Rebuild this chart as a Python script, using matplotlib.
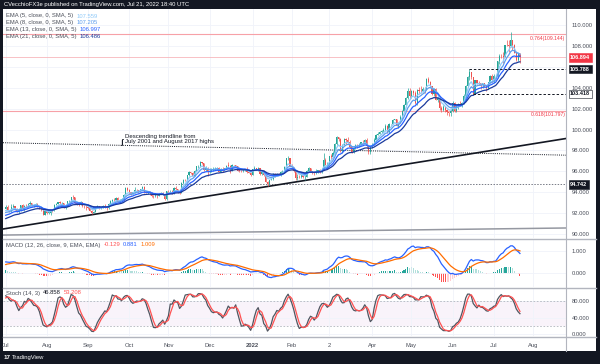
# plot.py
# DXY daily chart (TradingView style) with EMA ribbon, MACD and Stoch panes.

import numpy as np
import pandas as pd
import matplotlib
matplotlib.use("Agg")
import matplotlib.pyplot as plt
from matplotlib.patches import Rectangle

plt.rcParams['font.family'] = ['Liberation Sans', 'DejaVu Sans']

# ── Data ─────────────────────────────────────────────────────────────────────
# warm-up closes (May 2021) used only for the indicators
may21_close = [91.27, 91.29, 91.29, 90.90, 90.22, 90.16, 90.16, 90.70, 90.75, 90.32, 90.22,
               89.86, 90.18, 89.79, 90.01, 89.83, 89.77, 90.05, 89.99, 90.03, 90.03]
# warm-up June 2021 (indicators only, not drawn)
jun21_close = [89.83, 89.91, 90.52, 90.14, 90.00, 90.09, 90.08, 90.07, 90.56, 90.52, 90.53,
               91.40, 91.90, 92.23, 91.88, 91.75, 91.81, 91.82, 91.84, 91.89, 92.08, 92.44]
jun21_high = [90.19, 90.05, 90.62, 90.63, 90.26, 90.17, 90.23, 90.25, 90.60, 90.64, 90.61,
              91.48, 92.01, 92.41, 92.29, 92.01, 91.95, 91.92, 91.99, 92.05, 92.13, 92.48]
jun21_low = [89.66, 89.78, 89.88, 90.05, 89.97, 89.95, 90.00, 89.88, 90.05, 90.45, 90.40,
             90.41, 91.23, 91.50, 91.85, 91.68, 91.53, 91.68, 91.73, 91.80, 91.79, 92.01]

# visible candles, Jul 1 2021 -> Jul 21 2022 (one list per month)
close_m = [
    [92.56, 92.23, 92.22, 92.56, 92.65, 92.43, 92.13, 92.26, 92.74, 92.38, 92.71, 92.67, 92.84, 92.93, 92.76, 92.80, 92.90, 92.63, 92.43, 92.30, 91.86, 92.17],
    [92.04, 92.05, 92.27, 92.26, 92.80, 92.90, 93.06, 92.92, 92.98, 92.52, 92.60, 93.13, 93.14, 93.56, 93.50, 93.00, 92.88, 92.83, 93.05, 92.68, 92.65, 92.63],
    [92.51, 92.22, 92.03, 92.14, 92.52, 92.66, 92.49, 92.58, 92.64, 92.61, 92.50, 92.86, 93.20, 93.27, 93.22, 93.46, 93.11, 93.30, 93.35, 93.77, 94.36, 94.23],
    [94.04, 93.83, 93.99, 94.25, 94.19, 94.08, 94.30, 94.52, 94.04, 93.96, 93.96, 93.95, 93.61, 93.59, 93.77, 93.64, 93.85, 93.90, 93.80, 93.33, 94.12],
    [94.07, 94.09, 93.89, 94.41, 94.32, 94.05, 93.96, 94.85, 95.17, 95.13, 95.62, 95.94, 95.83, 95.54, 96.07, 96.49, 96.51, 96.85, 96.77, 96.08, 96.36, 95.99],
    [96.03, 96.14, 96.18, 96.30, 96.35, 95.93, 96.20, 96.08, 96.28, 96.55, 96.54, 96.05, 96.64, 96.57, 96.51, 96.07, 96.06, 96.03, 96.08, 96.20, 95.95, 95.86, 95.67],
    [96.22, 96.27, 96.18, 96.32, 95.72, 95.98, 95.63, 94.98, 94.79, 95.17, 95.26, 95.75, 95.53, 95.74, 95.64, 95.91, 95.95, 96.45, 97.25, 97.27, 96.54],
    [96.39, 96.01, 95.40, 95.48, 95.45, 95.63, 95.46, 95.49, 96.04, 96.32, 96.03, 95.86, 95.81, 96.06, 96.08, 96.02, 96.17, 97.11, 96.63, 96.71],
    [97.44, 97.40, 97.79, 98.63, 99.29, 99.06, 97.98, 98.50, 99.13, 99.00, 98.81, 98.35, 97.84, 98.23, 98.50, 98.45, 98.64, 98.81, 98.79, 98.97, 98.39, 97.82, 98.31],
    [98.62, 99.02, 99.48, 99.61, 99.80, 99.85, 99.94, 100.30, 99.80, 100.50, 100.52, 100.95, 101.04, 100.38, 100.61, 101.21, 101.75, 102.37, 102.99, 103.66, 103.20],
    [103.73, 103.48, 102.55, 103.76, 103.66, 103.64, 103.92, 103.88, 104.84, 104.56, 104.20, 103.40, 103.84, 102.85, 103.02, 102.08, 101.84, 102.11, 101.82, 101.67, 101.58, 101.75],
    [102.55, 101.79, 102.16, 102.43, 102.34, 102.56, 103.24, 104.15, 105.05, 105.52, 105.00, 103.36, 104.71, 104.45, 104.42, 104.22, 104.42, 104.20, 103.93, 104.52, 105.09, 104.69],
    [105.14, 105.08, 106.52, 107.04, 107.01, 106.89, 108.08, 108.07, 107.98, 108.55, 108.07, 107.36, 106.68, 107.18, 106.89],
]
high_m = [
    [92.74, 92.73, 92.32, 92.83, 92.84, 92.72, 92.49, 92.39, 92.80, 92.84, 92.79, 92.84, 92.96, 93.19, 93.00, 92.89, 92.98, 92.95, 92.69, 92.62, 92.37, 92.18],
    [92.21, 92.19, 92.33, 92.36, 92.84, 92.95, 93.09, 93.20, 93.05, 93.00, 92.68, 93.19, 93.24, 93.58, 93.73, 93.46, 93.07, 92.98, 93.13, 93.09, 92.79, 92.74],
    [92.75, 92.56, 92.26, 92.20, 92.57, 92.78, 92.71, 92.63, 92.73, 92.84, 92.67, 92.93, 93.26, 93.33, 93.44, 93.52, 93.53, 93.37, 93.48, 93.81, 94.45, 94.50],
    [94.29, 94.06, 94.03, 94.50, 94.30, 94.25, 94.32, 94.56, 94.55, 94.10, 94.10, 94.10, 93.99, 93.77, 93.84, 93.95, 93.97, 94.03, 94.01, 93.86, 94.16],
    [94.18, 94.18, 94.22, 94.50, 94.62, 94.33, 94.16, 94.93, 95.26, 95.27, 95.67, 96.00, 95.97, 95.92, 96.13, 96.51, 96.60, 96.94, 96.87, 96.78, 96.54, 96.43],
    [96.31, 96.28, 96.44, 96.44, 96.42, 96.38, 96.33, 96.37, 96.33, 96.57, 96.91, 96.58, 96.69, 96.62, 96.64, 96.52, 96.26, 96.09, 96.21, 96.25, 96.45, 96.08, 95.89],
    [96.26, 96.46, 96.33, 96.43, 96.33, 96.06, 96.08, 95.66, 95.10, 95.21, 95.28, 95.80, 95.79, 95.82, 95.80, 96.00, 96.11, 96.52, 97.27, 97.44, 97.29],
    [96.72, 96.44, 96.08, 95.75, 95.65, 95.74, 95.64, 95.98, 96.17, 96.44, 96.31, 96.06, 96.02, 96.22, 96.17, 96.21, 96.27, 97.73, 97.30, 96.91],
    [97.48, 97.70, 97.91, 98.69, 99.42, 99.28, 99.18, 98.63, 99.15, 99.16, 99.29, 99.02, 98.39, 98.32, 98.57, 98.66, 98.75, 98.85, 98.96, 99.11, 99.16, 98.42, 98.40],
    [98.71, 99.15, 99.55, 99.76, 99.89, 99.97, 100.16, 100.52, 100.41, 100.64, 100.55, 100.98, 101.03, 101.04, 100.72, 101.34, 101.86, 102.47, 103.13, 103.94, 103.93],
    [103.79, 103.79, 103.66, 103.84, 104.07, 104.19, 104.07, 104.06, 104.92, 105.01, 104.65, 104.18, 103.94, 103.96, 103.08, 103.09, 102.26, 102.32, 102.19, 101.95, 101.71, 101.95],
    [102.73, 102.67, 102.30, 102.51, 102.70, 102.60, 103.36, 104.24, 105.09, 105.79, 105.55, 104.95, 104.77, 104.78, 104.62, 104.47, 104.48, 104.48, 104.25, 104.59, 105.23, 105.32],
    [105.35, 105.22, 106.53, 107.27, 107.20, 107.45, 108.10, 108.56, 108.59, 109.29, 108.58, 108.18, 107.49, 107.28, 107.31],
]
low_m = [
    [92.40, 92.17, 92.11, 92.10, 92.51, 92.33, 92.11, 92.01, 92.17, 92.32, 92.24, 92.54, 92.60, 92.77, 92.69, 92.59, 92.72, 92.59, 92.37, 92.20, 91.78, 91.84],
    [91.92, 91.91, 91.78, 92.08, 92.18, 92.74, 92.85, 92.85, 92.82, 92.46, 92.44, 92.56, 92.97, 93.11, 93.36, 92.91, 92.75, 92.67, 92.75, 92.56, 92.51, 92.34],
    [92.37, 92.18, 91.95, 91.99, 92.06, 92.46, 92.35, 92.38, 92.46, 92.48, 92.33, 92.44, 92.81, 92.97, 93.08, 93.13, 93.03, 93.00, 93.08, 93.25, 93.73, 94.08],
    [93.87, 93.72, 93.79, 93.96, 94.14, 93.97, 94.01, 94.25, 93.88, 93.90, 93.79, 93.71, 93.50, 93.49, 93.51, 93.49, 93.61, 93.81, 93.71, 93.28, 93.28],
    [93.92, 93.91, 93.84, 93.83, 94.15, 93.93, 93.87, 93.93, 94.83, 95.07, 95.10, 95.53, 95.78, 95.51, 95.57, 96.02, 96.36, 96.44, 96.72, 96.03, 96.03, 95.52],
    [95.81, 95.91, 96.05, 96.15, 96.13, 95.89, 95.92, 95.94, 95.99, 96.26, 96.32, 95.85, 96.02, 96.39, 96.41, 96.04, 95.94, 95.97, 95.98, 96.00, 95.84, 95.80, 95.52],
    [95.64, 96.09, 96.08, 96.04, 95.67, 95.66, 95.58, 94.97, 94.63, 94.69, 95.12, 95.17, 95.47, 95.51, 95.63, 95.51, 95.85, 95.85, 96.44, 97.09, 96.47],
    [96.19, 95.92, 95.14, 95.14, 95.34, 95.35, 95.38, 95.14, 95.48, 96.00, 95.91, 95.74, 95.69, 95.70, 95.79, 95.86, 95.85, 96.13, 96.56, 96.28],
    [96.56, 97.12, 97.33, 97.73, 98.54, 98.94, 97.88, 97.77, 98.50, 98.59, 98.71, 98.23, 97.71, 97.73, 98.11, 98.22, 98.30, 98.52, 98.65, 98.69, 98.25, 97.69, 97.69],
    [98.22, 98.54, 98.84, 99.43, 99.58, 99.68, 99.73, 99.88, 99.70, 99.69, 100.42, 100.58, 100.90, 100.36, 100.11, 100.61, 101.02, 101.75, 102.34, 102.90, 102.92],
    [102.98, 103.29, 102.43, 102.35, 103.36, 103.47, 103.62, 103.45, 103.78, 104.43, 104.02, 103.27, 103.20, 102.78, 102.64, 101.91, 101.65, 101.81, 101.70, 101.43, 101.30, 101.30],
    [101.64, 101.69, 101.69, 101.92, 102.22, 102.19, 102.46, 103.13, 104.03, 104.78, 104.82, 103.41, 103.38, 104.31, 104.22, 103.85, 104.01, 104.10, 103.66, 103.92, 104.46, 104.50],
    [104.46, 104.89, 104.95, 106.23, 106.82, 106.41, 107.14, 107.96, 107.45, 107.93, 107.56, 107.33, 106.51, 106.52, 106.39],
]

# month labels on the time axis
month_labels = ["Jul", "Aug", "Sep", "Oct", "Nov", "Dec", "2022", "Feb", "2", "Apr", "May", "Jun", "Jul", "Aug"]

# right scale: 106.000 sits under the price boxes in the reference
price_ticks = [90, 92, 94, 96, 98, 100, 102, 104, 108, 110]

# drawn levels / trendlines
fib_levels = [(109.144, "0.764(109.144)"), (101.797, "0.618(101.797)")]
last_price = 106.894
dash_levels = [("2022-06-14", 105.788), ("2022-06-16", 103.418)]
dotted_level = 94.742
trend_up = [("2021-07-01", 90.52), ("2022-07-21", 98.43)]
trend_down = [("2021-07-01", 98.73), ("2022-07-21", 97.64)]
trend_long = [("2021-07-01", 89.90), ("2022-07-21", 90.52)]

ema_legend = [(5, "107.559", "#90caf9"), (8, "107.205", "#5c9ded"),
              (13, "106.997", "#2962ff"), (21, "106.486", "#1a3a9c")]
macd_legend = ["-0.129", "0.881", "1.009"]
stoch_legend = ["46.858", "53.208"]

# ── Series ───────────────────────────────────────────────────────────────────
close = np.concatenate([np.array(m, float) for m in close_m])
high = np.concatenate([np.array(m, float) for m in high_m])
low = np.concatenate([np.array(m, float) for m in low_m])
n = len(close)
open_ = np.concatenate([[jun21_close[-1]], close[:-1]])
high = np.maximum(high, np.maximum(open_, close))
low = np.minimum(low, np.minimum(open_, close))

days = pd.bdate_range("2021-07-01", "2022-08-31")
idx = np.arange(n)
pos = lambda d: days.get_loc(pd.Timestamp(d))

c_all = pd.Series(np.concatenate([may21_close, jun21_close, close]))
nw = len(c_all) - n
emas = {s: c_all.ewm(span=s, adjust=False).mean().values[nw:] for s, _, _ in ema_legend}

macd_full = c_all.ewm(span=12, adjust=False).mean() - c_all.ewm(span=26, adjust=False).mean()
sig_full = macd_full.ewm(span=9, adjust=False).mean()
hist_full = macd_full - sig_full
macd = macd_full.values[nw:]
sig = sig_full.values[nw:]
hist = hist_full.values[nw:]
hist_prev = hist_full.values[nw - 1:-1]

h_s = pd.Series(np.concatenate([jun21_high, high]))
l_s = pd.Series(np.concatenate([jun21_low, low]))
c_s = pd.Series(np.concatenate([jun21_close, close]))
raw = 100 * (c_s - l_s.rolling(14).min()) / (h_s.rolling(14).max() - l_s.rolling(14).min())
k = raw.rolling(3).mean()
d = k.rolling(3).mean()
nj = len(jun21_close)
k = k.values[nj:]
d = d.values[nj:]

# ── Figure ───────────────────────────────────────────────────────────────────
W, H = 600, 364
DARK = "#131722"
GRID = "#f0f3fa"
SEP = "#b2b5be"
TXT = "#4a4e59"
X0, XPX = 5.7, 1.87          # pixel of first candle, pixels per bar
Y110, YPX = 25, 10.45        # pixel row of 110.000, pixels per point

fig = plt.figure(figsize=(W / 100, H / 100), dpi=100)
fig.patch.set_facecolor(DARK)
fig.add_artist(Rectangle((3 / W, 1 - 351 / H), 593 / W, 342 / H,
                         transform=fig.transFigure, facecolor="white", edgecolor="none", zorder=0))


def px_axes(x0, y0, x1, y1):
    a = fig.add_axes([x0 / W, 1 - y1 / H, (x1 - x0) / W, (y1 - y0) / H])
    a.set_facecolor("none")
    for s in a.spines.values():
        s.set_visible(False)
    a.set_xlim((3 - X0) / XPX, (566 - X0) / XPX)
    a.tick_params(length=0, labelsize=4.2, labelcolor=TXT, pad=4)
    a.yaxis.tick_right()
    return a


def ftext(x, y, s, **kw):
    return fig.text(x / W, 1 - y / H, s, va="center", **kw)


def seg_text(x, y, parts, size=4.2):
    r = fig.canvas.get_renderer()
    for s, col in parts:
        t = ftext(x, y, s, color=col, fontsize=size, ha="left")
        x += t.get_window_extent(renderer=r).width + 3


month_pos = [i for i in range(len(days)) if i == 0 or days[i].month != days[i - 1].month]

# main price pane
ax = px_axes(3, 9, 566, 238)
ax.set_ylim(110 - (238 - Y110) / YPX, 110 + (Y110 - 9) / YPX)
ax.set_yticks(np.arange(90, 111, 2))
ax.set_yticklabels([f"{v:.3f}" if v in price_ticks else "" for v in np.arange(90, 111, 2)])
ax.set_xticks(month_pos)
ax.set_xticklabels([])
ax.grid(True, color=GRID, lw=0.6)
ax.set_axisbelow(True)

up = close >= open_
cols = np.where(up, "#26a69a", "#ef5350")
ax.vlines(idx, low, high, colors=cols, lw=0.5, zorder=3)
body = np.where(np.abs(close - open_) < 0.03, 0.03, close - open_)
ax.bar(idx, body, bottom=open_, width=0.62, color=cols, lw=0, zorder=3)

for s, _, col in ema_legend:
    ax.plot(idx, emas[s], color=col, lw=0.9, zorder=4)

for lvl, lab in fib_levels:
    ax.axhline(lvl, color="#f7a1a7", lw=0.8, zorder=2)
    ax.text(1, lvl - 0.15, lab + " ", transform=ax.get_yaxis_transform(), ha="right", va="top",
            fontsize=3.6, color="#f23645")
ax.axhline(last_price, color="#f7b7bb", lw=0.6, zorder=2)
for dstart, lvl in dash_levels:
    ax.hlines(lvl, pos(dstart), ax.get_xlim()[1], colors="#131722", lw=0.7,
              linestyles=(0, (2.5, 2)), zorder=5)
ax.axhline(dotted_level, color="#787b86", lw=0.7, ls=(0, (1.5, 1.5)), zorder=2)
ax.axline((pos(trend_down[0][0]), trend_down[0][1]), (pos(trend_down[1][0]), trend_down[1][1]),
          color="#131722", lw=0.7, ls=(0, (1, 1.2)), zorder=2)
ax.axline((pos(trend_up[0][0]), trend_up[0][1]), (pos(trend_up[1][0]), trend_up[1][1]),
          color="#131722", lw=1.2, zorder=2)
ax.axline((pos(trend_long[0][0]), trend_long[0][1]), (pos(trend_long[1][0]), trend_long[1][1]),
          color="#9598a1", lw=1.1, zorder=2)

# price boxes on the right scale
boxes = [(last_price, "#f23645", "white", "#f23645"), (105.788, "#131722", "white", "#131722"),
         (103.418, "white", "#131722", "#131722"), (dotted_level, "#131722", "white", "#131722")]
for v, fc, tc, ec in boxes:
    ax.annotate(f"{v:.3f}", xy=(1, v), xycoords=("axes fraction", "data"), xytext=(3.0, 0),
                textcoords="offset points", ha="left", va="center", fontsize=4.0,
                fontweight="bold", color=tc, annotation_clip=False,
                bbox=dict(boxstyle="square,pad=0.3", fc=fc, ec=ec, lw=0.4), zorder=10)

ax.text(pos("2021-09-27"), 98.8, "ʃ", fontsize=5.5, color="#131722", fontweight="bold",
        ha="center", va="center")
ax.text(pos("2021-09-29"), 99.1, "Descending trendline from\nJuly 2001 and August 2017 highs",
        fontsize=4.3, color="#131722", ha="left", va="center", linespacing=1.1)

# MACD pane
mx = px_axes(3, 240, 566, 287)
mx.set_ylim(-(287 - 273) / 22, (273 - 240) / 22)
mx.set_yticks([0, 1])
mx.set_yticklabels(["0.000", "1.000"])
mx.set_xticks(month_pos)
mx.set_xticklabels([])
mx.grid(True, color=GRID, lw=0.6)
hcol = np.where(hist >= 0, np.where(hist > hist_prev, "#26a69a", "#b2dfdb"),
                np.where(hist < hist_prev, "#ff5252", "#ffcdd2"))
mx.bar(idx, hist, width=0.55, color=hcol, lw=0)
mx.plot(idx, macd, color="#2962ff", lw=0.9)
mx.plot(idx, sig, color="#ff6d00", lw=0.9)

# Stoch pane
sx = px_axes(3, 289, 566, 336)
sx.set_ylim(-(336 - 334) / 0.4125, (334 - 289) / 0.4125)
sx.set_yticks([0, 40, 80])
sx.set_yticklabels(["0.000", "40.000", "80.000"])
sx.set_xticks(month_pos)
sx.set_xticklabels(month_labels[:len(month_pos)])
for t in sx.get_xticklabels():
    if t.get_text() == "2022":
        t.set_fontweight("bold")
sx.tick_params(axis="x", pad=5)
sx.grid(True, color=GRID, lw=0.6)
sx.axhspan(20, 80, color="#9c27b0", alpha=0.05, lw=0)
for lvl in (20, 80):
    sx.axhline(lvl, color=SEP, lw=0.6, ls=(0, (2, 2)))
sx.plot(idx, k, color="#505560", lw=0.9)
sx.plot(idx, d, color="#ff5252", lw=0.9)

# separators
for y in (239, 288, 337):
    fig.add_artist(plt.Line2D([3 / W, 596 / W], [1 - y / H] * 2, color=SEP, lw=1.0))
fig.add_artist(plt.Line2D([566 / W] * 2, [1 - 9 / H, 1 - 351 / H], color=SEP, lw=0.8))

# legends and header
ftext(4, 4.5, "CVecchioFX3e published on TradingView.com, Jul 21, 2022 18:40 UTC",
      color="white", fontsize=4.2, ha="left")
for i, (s, val, col) in enumerate(ema_legend):
    seg_text(6, 16 + 6.8 * i, [(f"EMA ({s}, close, 0, SMA, 5)", TXT), (val, col)])
seg_text(6, 245, [("MACD (12, 26, close, 9, EMA, EMA)", TXT), (macd_legend[0], "#ff5252"),
                  (macd_legend[1], "#2962ff"), (macd_legend[2], "#ff6d00")])
seg_text(6, 293, [("Stoch (14, 3)", TXT), (stoch_legend[0], "#131722"), (stoch_legend[1], "#ff5252")])

ftext(4, 357.5, "17", color="white", fontsize=4.5, fontweight="bold", ha="left")
ftext(12, 357.5, "TradingView", color="white", fontsize=4.2, ha="left")

fig.savefig("out.png", dpi=100, facecolor=DARK)
